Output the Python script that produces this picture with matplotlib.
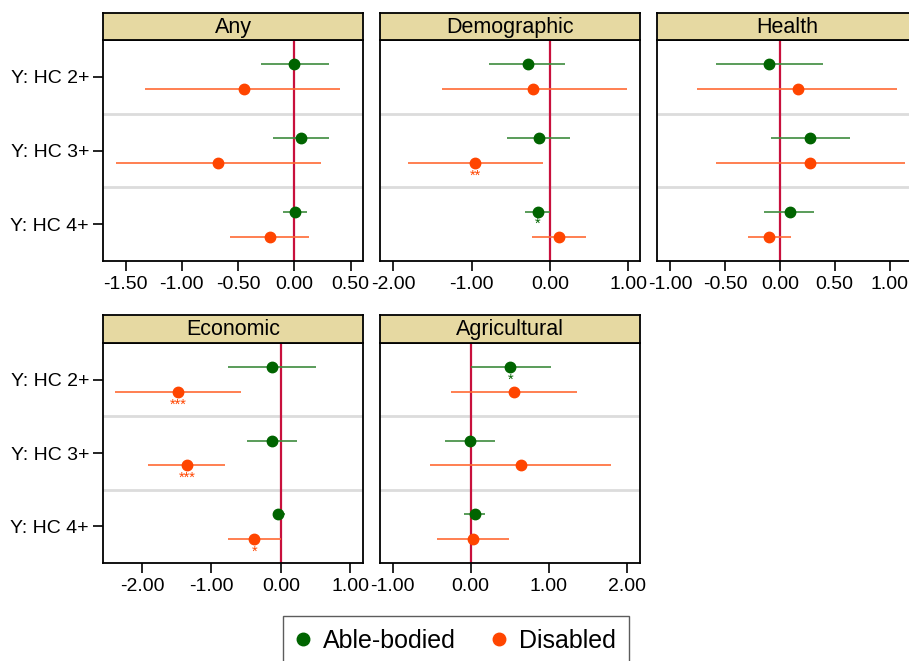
import matplotlib
matplotlib.use("Agg")
import matplotlib.pyplot as plt
from matplotlib.lines import Line2D

plt.rcParams['font.family'] = ['Liberation Sans', 'DejaVu Sans']

# ---------------- data ----------------
outcomes = ["Y: HC 2+", "Y: HC 3+", "Y: HC 4+"]
panels = ["Any", "Demographic", "Health", "Economic", "Agricultural"]

able_est = {
    "Any":          [0.00, 0.06, 0.01],
    "Demographic":  [-0.285, -0.145, -0.153],
    "Health":       [-0.097, 0.277, 0.088],
    "Economic":     [-0.13, -0.13, -0.038],
    "Agricultural": [0.507, -0.009, 0.06],
}
able_lo = {
    "Any":          [-0.30, -0.19, -0.10],
    "Demographic":  [-0.775, -0.545, -0.315],
    "Health":       [-0.584, -0.079, -0.143],
    "Economic":     [-0.763, -0.494, -0.11],
    "Agricultural": [0.004, -0.324, -0.081],
}
able_hi = {
    "Any":          [0.31, 0.31, 0.11],
    "Demographic":  [0.19, 0.25, 0.0],
    "Health":       [0.39, 0.641, 0.31],
    "Economic":     [0.50, 0.235, 0.053],
    "Agricultural": [1.023, 0.307, 0.187],
}
dis_est = {
    "Any":          [-0.45, -0.675, -0.22],
    "Demographic":  [-0.21, -0.955, 0.115],
    "Health":       [0.161, 0.277, -0.097],
    "Economic":     [-1.474, -1.354, -0.384],
    "Agricultural": [0.554, 0.643, 0.034],
}
dis_lo = {
    "Any":          [-1.325, -1.585, -0.57],
    "Demographic":  [-1.38, -1.817, -0.225],
    "Health":       [-0.754, -0.58, -0.289],
    "Economic":     [-2.381, -1.915, -0.758],
    "Agricultural": [-0.251, -0.52, -0.426],
}
dis_hi = {
    "Any":          [0.41, 0.24, 0.13],
    "Demographic":  [0.98, -0.085, 0.46],
    "Health":       [1.064, 1.14, 0.097],
    "Economic":     [-0.581, -0.80, 0.0],
    "Agricultural": [1.363, 1.79, 0.494],
}
able_stars = {
    "Any": ["", "", ""], "Demographic": ["", "", "*"], "Health": ["", "", ""],
    "Economic": ["", "", ""], "Agricultural": ["*", "", ""],
}
dis_stars = {
    "Any": ["", "", ""], "Demographic": ["", "**", ""], "Health": ["", "", ""],
    "Economic": ["***", "***", "*"], "Agricultural": ["", "", ""],
}
xticks = {
    "Any": [-1.5, -1.0, -0.5, 0.0, 0.5],
    "Demographic": [-2.0, -1.0, 0.0, 1.0],
    "Health": [-1.0, -0.5, 0.0, 0.5, 1.0],
    "Economic": [-2.0, -1.0, 0.0, 1.0],
    "Agricultural": [-1.0, 0.0, 1.0, 2.0],
}
xlims = {
    "Any": (-1.70, 0.61),
    "Demographic": (-2.17, 1.15),
    "Health": (-1.12, 1.25),
    "Economic": (-2.56, 1.18),
    "Agricultural": (-1.16, 2.165),
}

GREEN = "#006400"
GREEN_L = "#3d8b3d"
ORANGE = "#ff4500"
ORANGE_L = "#ff6a33"
ZERO = "#c8103c"
STRIP = "#e6d9a2"

W, H = 909, 661
fig = plt.figure(figsize=(W / 100, H / 100), dpi=100)

# pixel layout: (left, right) columns; (strip_top, strip_bottom, plot_bottom) rows
cols = [(103, 363), (380, 640), (657, 917)]
rows = [(13, 40, 261), (315, 343, 563)]
pos = {
    "Any": (0, 0), "Demographic": (0, 1), "Health": (0, 2),
    "Economic": (1, 0), "Agricultural": (1, 1),
}

off = 0.17
for name in panels:
    r, c = pos[name]
    x0, x1 = cols[c]
    st, sb, pb = rows[r]
    ax = fig.add_axes([x0 / W, 1 - pb / H, (x1 - x0) / W, (pb - sb) / H])
    sax = fig.add_axes([x0 / W, 1 - sb / H, (x1 - x0) / W, (sb - st) / H])
    sax.set_facecolor(STRIP)
    sax.set_xticks([]); sax.set_yticks([])
    for sp in sax.spines.values():
        sp.set_linewidth(1.3); sp.set_color("black")
    sax.text(0.5, 0.48, name, ha="center", va="center", fontsize=15.5,
             transform=sax.transAxes)

    ys = [1, 2, 3]
    for sep in [1.5, 2.5]:
        ax.axhline(sep, color="#dcdcdc", lw=2, zorder=1)
    ax.axvline(0, color=ZERO, lw=1.6, zorder=2)
    for i, y in enumerate(ys):
        ya = y - off
        yd = y + off
        ax.hlines(ya, able_lo[name][i], able_hi[name][i], color=GREEN_L, lw=1.2, zorder=3)
        ax.plot(able_est[name][i], ya, "o", color=GREEN, ms=7.5, zorder=4)
        ax.hlines(yd, dis_lo[name][i], dis_hi[name][i], color=ORANGE_L, lw=1.2, zorder=3)
        ax.plot(dis_est[name][i], yd, "o", color=ORANGE, ms=7.5, zorder=4)
        if able_stars[name][i]:
            ax.annotate(able_stars[name][i], (able_est[name][i], ya), xytext=(0, -4),
                        textcoords="offset points", ha="center", va="top",
                        fontsize=10.5, color=GREEN)
        if dis_stars[name][i]:
            ax.annotate(dis_stars[name][i], (dis_est[name][i], yd), xytext=(0, -4),
                        textcoords="offset points", ha="center", va="top",
                        fontsize=10.5, color=ORANGE)

    ax.set_ylim(3.5, 0.5)
    ax.set_xlim(*xlims[name])
    ax.set_xticks(xticks[name])
    ax.set_xticklabels([f"{t:.2f}" for t in xticks[name]])
    ax.tick_params(axis="x", labelsize=14, length=7, width=1.2, direction="out", pad=4)
    if c == 0:
        ax.set_yticks(ys)
        ax.set_yticklabels(outcomes)
        ax.tick_params(axis="y", labelsize=14, length=7, width=1.2, direction="out", pad=3)
    else:
        ax.set_yticks([])
    for sp in ax.spines.values():
        sp.set_linewidth(1.3); sp.set_color("black")

handles = [
    Line2D([], [], marker="o", ls="none", color=GREEN, ms=9, label="Able-bodied"),
    Line2D([], [], marker="o", ls="none", color=ORANGE, ms=9, label="Disabled"),
]
leg = fig.legend(handles=handles, loc="upper left", bbox_to_anchor=(282.7 / W, 1 - 616 / H),
                 ncol=2, fontsize=18, frameon=True, fancybox=False, edgecolor="#333333",
                 handlelength=0.6, handletextpad=0.5, columnspacing=1.45, borderpad=0.5,
                 borderaxespad=0)
leg.get_frame().set_linewidth(1.0)

fig.savefig("out.png", dpi=100)
